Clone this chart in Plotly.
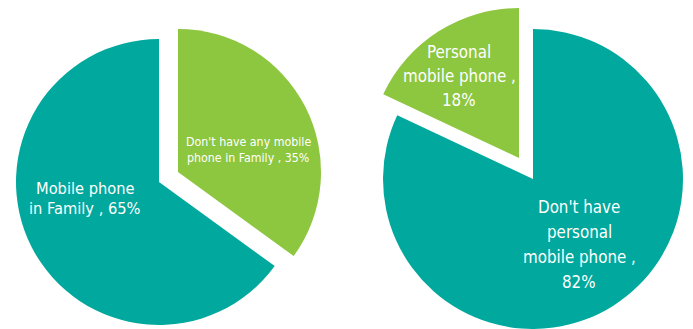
import plotly.graph_objects as go

W, H = 693, 329

# ---- data ----
left_labels = ["Don't have any mobile phone in Family", "Mobile phone in Family"]
left_lines = [["Don't have any mobile", "phone in Family , {v}%"], ["Mobile phone", "in Family , {v}%"]]
left_values = [35, 65]

right_labels = ["Don't have personal mobile phone", "Personal mobile phone"]
right_lines = [["Don't have", "personal", "mobile phone ,", "{v}%"], ["Personal", "mobile phone ,", "{v}%"]]
right_values = [82, 18]

TEAL = "#00A89D"
GREEN = "#8DC63F"
CLEAR = "rgba(0,0,0,0)"
FONT = "DejaVu Sans Condensed, sans-serif"


def dom(cx, cy, r):
    return dict(x=[max(0, (cx - r) / W), min(1, (cx + r) / W)],
                y=[max(0, 1 - (cy + r) / H), min(1, 1 - (cy - r) / H)])


fig = go.Figure()

def add_pie(labels, values, colors, d):
    fig.add_trace(go.Pie(labels=labels, values=values, sort=False,
                         direction="clockwise", rotation=0,
                         marker=dict(colors=colors, line=dict(width=0)),
                         textinfo="none", hoverinfo="label+percent",
                         showlegend=False, domain=d))

# left chart: base slice + pulled-out slice
add_pie(left_labels, left_values, [CLEAR, TEAL], dom(159, 182, 143))
add_pie(left_labels, left_values, [GREEN, CLEAR], dom(178, 172, 143))
# right chart
add_pie(right_labels, right_values, [TEAL, CLEAR], dom(533, 179, 150))
add_pie(right_labels, right_values, [CLEAR, GREEN], dom(519, 158, 150))

annotations = []

def add_text(lines, value, cx, cy0, step, size):
    for i, ln in enumerate(lines):
        annotations.append(dict(
            text=ln.format(v=value), x=cx / W, y=1 - (cy0 + i * step) / H,
            xref="paper", yref="paper", xanchor="center", yanchor="middle",
            showarrow=False, font=dict(family=FONT, size=size, color="white")))

add_text(left_lines[1], left_values[1], 85, 188, 21, 16.3)
add_text(left_lines[0], left_values[0], 248, 142, 16, 12.3)
add_text(right_lines[1], right_values[1], 459, 52, 24, 16.8)
add_text(right_lines[0], right_values[0], 579, 207, 25, 16.8)

fig.update_layout(width=W, height=H, margin=dict(l=0, r=0, t=0, b=0),
                  paper_bgcolor="white", plot_bgcolor="white",
                  annotations=annotations)

fig.write_html("out.html")
